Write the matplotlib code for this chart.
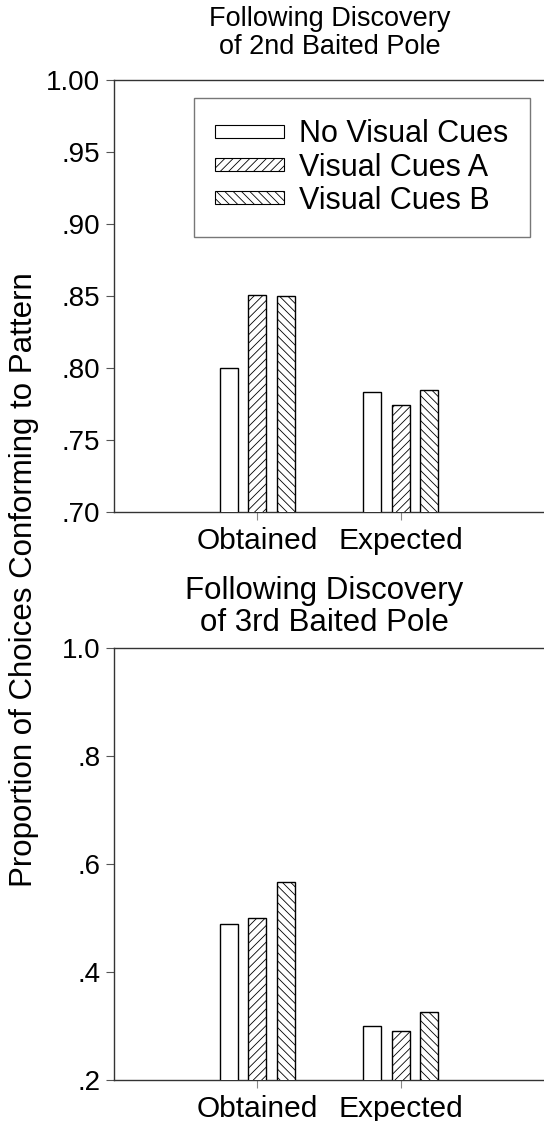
import numpy as np
import matplotlib.pyplot as plt
from matplotlib.patches import Patch

plt.rcParams['font.family'] = ['Liberation Sans', 'DejaVu Sans']
plt.rcParams['hatch.linewidth'] = 0.6

groups = ['Obtained', 'Expected']
conditions = ['No Visual Cues', 'Visual Cues A', 'Visual Cues B']
hatches = ['', '////', '\\\\\\\\']

# proportions after the 2nd and 3rd baited pole
pole2 = [
    [0.800, 0.783],   # No Visual Cues
    [0.851, 0.774],   # Visual Cues A
    [0.850, 0.785],   # Visual Cues B
]
pole3 = [
    [0.489, 0.300],
    [0.499, 0.290],
    [0.566, 0.325],
]

pole2_ticks = [0.70, 0.75, 0.80, 0.85, 0.90, 0.95, 1.00]
pole2_ticklabels = ['.70', '.75', '.80', '.85', '.90', '.95', '1.00']
pole3_ticks = [0.2, 0.4, 0.6, 0.8, 1.0]
pole3_ticklabels = ['.2', '.4', '.6', '.8', '1.0']

W, H = 544, 1121
fig = plt.figure(figsize=(5.44, 11.21), dpi=100)
ax1 = fig.add_axes([0.2096, 0.5433, 0.7904, 0.3854])
ax2 = fig.add_axes([0.2096, 0.0366, 0.7904, 0.3854])

x = np.arange(len(groups))
width = 0.125
offsets = [-0.2, 0.0, 0.2]


def draw_panel(ax, values, ticks, ticklabels, title, title_size, title_xy):
    for vals, off, h in zip(values, offsets, hatches):
        ax.bar(x + off, vals, width, color='white', edgecolor='black',
               linewidth=1.0, hatch=h, zorder=3)
    ax.set_xlim(-1, 2)
    ax.set_ylim(ticks[0], ticks[-1])
    ax.set_yticks(ticks)
    ax.set_yticklabels(ticklabels)
    ax.set_xticks(x)
    ax.set_xticklabels(groups)
    ax.spines['right'].set_visible(False)
    for s in ['left', 'bottom', 'top']:
        ax.spines[s].set_linewidth(1.0)
        ax.spines[s].set_color('#333333')
    ax.tick_params(axis='y', direction='out', length=6, width=0.8,
                   color='#555555', labelsize=20, pad=4)
    ax.tick_params(axis='x', direction='out', length=6, width=0.8,
                   color='#888888', labelsize=21.5, pad=5)
    fig.text(title_xy[0] / W, 1 - title_xy[1] / H, title, fontsize=title_size,
             ha='center', va='center', linespacing=1.05)


draw_panel(ax1, pole2, pole2_ticks, pole2_ticklabels,
           'Following Discovery\nof 2nd Baited Pole', 19.5, (330, 33))
draw_panel(ax2, pole3, pole3_ticks, pole3_ticklabels,
           'Following Discovery\nof 3rd Baited Pole', 22.5, (324, 607))

handles = [Patch(facecolor='white', edgecolor='black', linewidth=0.8, hatch=h)
           for h in hatches]
leg = ax1.legend(handles, conditions, loc='upper right',
                 bbox_to_anchor=(0.967, 0.958), borderaxespad=0,
                 fontsize=22, frameon=True, fancybox=False,
                 edgecolor='#555555', handlelength=2.25, handleheight=0.25,
                 borderpad=0.7, labelspacing=0.1, handletextpad=0.5)
leg.get_frame().set_linewidth(1.0)

fig.text(0.044, 1 - 580 / H, 'Proportion of Choices Conforming to Pattern',
         rotation=90, ha='center', va='center', fontsize=22.5)

fig.savefig('out.png', dpi=100)
